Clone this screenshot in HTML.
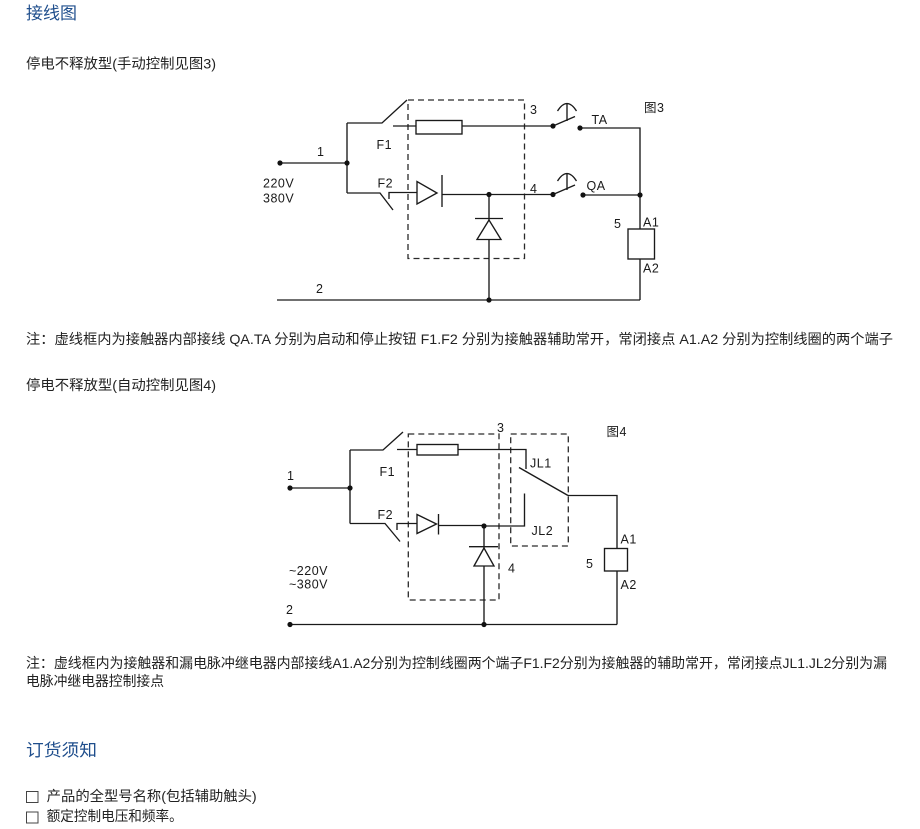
<!DOCTYPE html>
<html><head><meta charset="utf-8">
<style>
html,body{margin:0;padding:0;background:#fff;}
body{width:920px;height:829px;overflow:hidden;}
svg{display:block;}
text{font-family:"Liberation Sans","Noto Sans CJK SC",sans-serif;}
.t{fill:#222;font-size:14px;}
.h{fill:#1f4e8c;font-size:17px;}
.l{fill:#1a1a1a;font-size:12.5px;letter-spacing:0.5px;}
.w{stroke:#1a1a1a;stroke-width:1.35;fill:none;}
.wf{stroke:#1a1a1a;stroke-width:1.35;fill:#fff;}
.d{stroke:#2a2a2a;stroke-width:1.3;fill:none;stroke-dasharray:6 4;}
.dot{fill:#111;}
</style></head>
<body>
<svg width="920" height="829" viewBox="0 0 920 829" xmlns="http://www.w3.org/2000/svg">
<!-- headings and text -->
<text class="h" x="26" y="19" textLength="51" lengthAdjust="spacingAndGlyphs">接线图</text>
<text class="t" x="26" y="68.5" textLength="190" lengthAdjust="spacingAndGlyphs">停电不释放型(手动控制见图3)</text>
<text class="t" x="26" y="344" textLength="867" lengthAdjust="spacingAndGlyphs">注：虚线框内为接触器内部接线  QA.TA  分别为启动和停止按钮 F1.F2 分别为接触器辅助常开，常闭接点 A1.A2 分别为控制线圈的两个端子</text>
<text class="t" x="26" y="390" textLength="190" lengthAdjust="spacingAndGlyphs">停电不释放型(自动控制见图4)</text>
<text class="t" x="26" y="668" textLength="861" lengthAdjust="spacingAndGlyphs">注：虚线框内为接触器和漏电脉冲继电器内部接线A1.A2分别为控制线圈两个端子F1.F2分别为接触器的辅助常开，常闭接点JL1.JL2分别为漏</text>
<text class="t" x="26" y="686" textLength="138" lengthAdjust="spacingAndGlyphs">电脉冲继电器控制接点</text>
<text class="h" x="26" y="756" textLength="71" lengthAdjust="spacingAndGlyphs">订货须知</text>
<rect x="26.5" y="791.5" width="11.5" height="11" fill="none" stroke="#444" stroke-width="1"/>
<text class="t" x="46.7" y="801" textLength="210" lengthAdjust="spacingAndGlyphs">产品的全型号名称(包括辅助触头)</text>
<rect x="26.5" y="812" width="11.5" height="11" fill="none" stroke="#444" stroke-width="1"/>
<text class="t" x="46.7" y="821" textLength="136" lengthAdjust="spacingAndGlyphs">额定控制电压和频率。</text>

<!-- ========== Figure 3 ========== -->
<rect class="d" x="408" y="100" width="116.5" height="158.5"/>
<line class="w" x1="280" y1="163" x2="347" y2="163"/>
<line class="w" x1="347" y1="123" x2="347" y2="193"/>
<polyline class="w" points="347,123 382,123 407,100"/>
<line class="w" x1="393" y1="126" x2="416" y2="126"/>
<rect class="wf" x="416" y="120.5" width="46" height="13.5"/>
<line class="w" x1="462" y1="126" x2="553" y2="126"/>
<line class="w" x1="553" y1="126" x2="575" y2="116.5"/>
<path class="w" d="M557.5,111 Q567,96 576.5,111"/>
<line class="w" x1="567" y1="104" x2="567" y2="121"/>
<polyline class="w" points="580,128 640,128 640,300"/>
<!-- F2 -->
<polyline class="w" points="347,193 380,193 393,210"/>
<polyline class="w" points="389,199 389,192.5 417,192.5"/>
<line class="w" x1="442" y1="194.5" x2="553" y2="194.5"/>
<polygon class="wf" points="417,181.5 417,204 437,193"/>
<line class="w" x1="442" y1="175" x2="442" y2="207"/>
<line class="w" x1="553" y1="194.5" x2="575" y2="185"/>
<path class="w" d="M557.5,181 Q567,166 576.5,181"/>
<line class="w" x1="567" y1="174" x2="567" y2="190"/>
<line class="w" x1="583" y1="195" x2="640" y2="195"/>
<!-- vertical diode -->
<line class="w" x1="489" y1="194.5" x2="489" y2="300"/>
<polygon class="wf" points="489,220 477,239.5 501,239.5"/>
<line class="w" x1="475" y1="218.5" x2="503" y2="218.5"/>
<!-- coil -->
<rect class="wf" x="628" y="229" width="26.5" height="30"/>
<line class="w" x1="277" y1="300" x2="640" y2="300"/>
<circle class="dot" cx="280" cy="163" r="2.6"/>
<circle class="dot" cx="347" cy="163" r="2.6"/>
<circle class="dot" cx="553" cy="126" r="2.6"/>
<circle class="dot" cx="580" cy="128" r="2.6"/>
<circle class="dot" cx="553" cy="194.5" r="2.6"/>
<circle class="dot" cx="583" cy="195" r="2.6"/>
<circle class="dot" cx="640" cy="195" r="2.6"/>
<circle class="dot" cx="489" cy="194.5" r="2.6"/>
<circle class="dot" cx="489" cy="300" r="2.6"/>
<text class="l" x="530" y="114">3</text>
<text class="l" x="591.5" y="124">TA</text>
<text class="l" x="644" y="112">图3</text>
<text class="l" x="376.5" y="149">F1</text>
<text class="l" x="317" y="156">1</text>
<text class="l" x="263" y="187.5">220V</text>
<text class="l" x="263" y="202.5">380V</text>
<text class="l" x="377.5" y="187.5">F2</text>
<text class="l" x="530" y="193">4</text>
<text class="l" x="586.5" y="190">QA</text>
<text class="l" x="614" y="228">5</text>
<text class="l" x="643" y="226.5">A1</text>
<text class="l" x="643" y="272.5">A2</text>
<text class="l" x="316" y="293">2</text>

<!-- ========== Figure 4 ========== -->
<rect class="d" x="408.3" y="434" width="90.7" height="166"/>
<rect class="d" x="510.7" y="434" width="57.6" height="112"/>
<line class="w" x1="290" y1="488" x2="350" y2="488"/>
<line class="w" x1="350" y1="450" x2="350" y2="523.5"/>
<polyline class="w" points="350,450 383,450 403,432"/>
<line class="w" x1="397" y1="449.5" x2="417" y2="449.5"/>
<rect class="wf" x="417" y="444.5" width="41" height="10.5"/>
<polyline class="w" points="458,449.5 526,449.5 526,469"/>
<line class="w" x1="519" y1="467.5" x2="568" y2="495.5"/>
<polyline class="w" points="568,495.5 617,495.5 617,624.5"/>
<polyline class="w" points="524.5,493.5 524.5,526 484,526"/>
<!-- F2 -->
<polyline class="w" points="350,523.5 385,523.5 400,541.5"/>
<polyline class="w" points="397,530 397,523.5 417,523.5"/>
<line class="w" x1="438.5" y1="525.5" x2="484" y2="525.5"/>
<polygon class="wf" points="417,514.5 417,533.5 436.5,524"/>
<line class="w" x1="438.5" y1="514" x2="438.5" y2="534.5"/>
<!-- vertical diode -->
<line class="w" x1="484" y1="526" x2="484" y2="624.5"/>
<polygon class="wf" points="484,548 474,566 494,566"/>
<line class="w" x1="469" y1="546.7" x2="498" y2="546.7"/>
<!-- coil -->
<rect class="wf" x="604.5" y="548.5" width="23" height="22.5"/>
<line class="w" x1="290" y1="624.5" x2="617" y2="624.5"/>
<circle class="dot" cx="290" cy="488" r="2.6"/>
<circle class="dot" cx="350" cy="488" r="2.6"/>
<circle class="dot" cx="484" cy="526" r="2.6"/>
<circle class="dot" cx="290" cy="624.5" r="2.6"/>
<circle class="dot" cx="484" cy="624.5" r="2.6"/>
<text class="l" x="497" y="432">3</text>
<text class="l" x="606.5" y="436">图4</text>
<text class="l" x="287" y="480">1</text>
<text class="l" x="379.5" y="476">F1</text>
<text class="l" x="530" y="467.5">JL1</text>
<text class="l" x="377.5" y="519">F2</text>
<text class="l" x="531.5" y="535">JL2</text>
<text class="l" x="620.5" y="543.5">A1</text>
<text class="l" x="586" y="568">5</text>
<text class="l" x="508" y="572.5">4</text>
<text class="l" x="289" y="575">~220V</text>
<text class="l" x="289" y="588.5">~380V</text>
<text class="l" x="620.5" y="589">A2</text>
<text class="l" x="286" y="614">2</text>
</svg>
</body></html>
